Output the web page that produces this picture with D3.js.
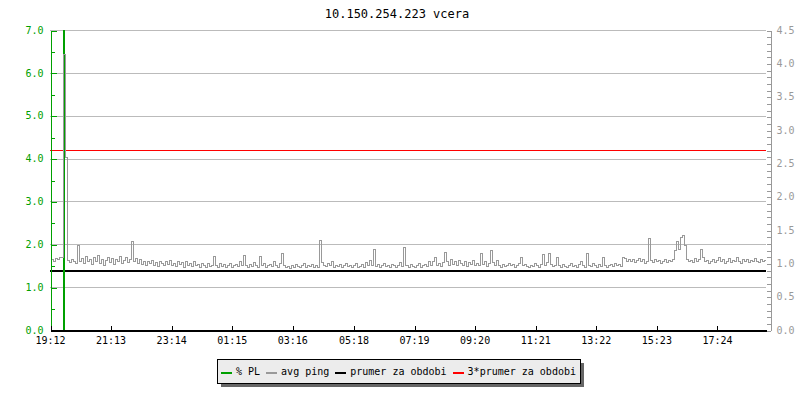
<!DOCTYPE html>
<html>
<head>
<meta charset="utf-8">
<script src="https://cdn.jsdelivr.net/npm/d3@7"></script>
<style>
    body { margin: 0; background: #fff; }
    svg { display: block; font-family: "DejaVu Sans Mono", monospace; }
    .crisp { shape-rendering: crispEdges; }
</style>
</head>
<body>
<div id="chart"></div>
<script>
// chart data (avg ping in ms, one value every 4 minutes starting 19:12)
const title = "10.150.254.223 vcera";
const slotMinutes = 4;
const pingValues = [
    1.05, 1.07, 1.04, 1.08, 1.06, 1.09, 1.10, 4.14, 2.60, 1.05,
    1.02, 1.06, 1.03, 1.01, 1.27, 1.04, 1.08, 1.00, 1.11, 1.03,
    1.06, 0.99, 1.09, 1.04, 1.12, 1.01, 1.07, 0.98, 1.05, 1.10,
    1.02, 1.08, 0.99, 1.06, 1.03, 1.11, 1.00, 1.05, 1.09, 1.02,
    1.07, 1.33, 1.04, 1.08, 1.01, 1.06, 0.99, 1.03, 0.97, 1.04,
    1.00, 1.05, 0.98, 1.02, 0.96, 1.04, 1.01, 0.97, 1.03, 0.99,
    1.05, 0.98, 1.01, 0.96, 1.03, 0.99, 1.02, 0.95, 1.04, 0.98,
    1.00, 0.96, 1.03, 0.97, 0.99, 0.95, 1.01, 0.97, 0.94, 1.00,
    0.96, 0.98, 1.11, 0.97, 0.95, 1.00, 0.96, 0.99, 0.94, 0.98,
    1.01, 0.95, 0.97, 0.99, 0.96, 1.03, 0.98, 1.12, 0.97, 0.95,
    0.99, 0.96, 1.02, 0.97, 0.94, 1.11, 0.98, 1.00, 0.95, 0.97,
    0.99, 0.96, 1.04, 0.98, 0.95, 1.01, 1.16, 0.97, 0.94, 0.96,
    0.93, 0.97, 0.95, 0.99, 0.96, 0.94, 0.98, 1.00, 0.95, 0.97,
    0.96, 0.99, 0.94, 0.97, 0.95, 1.35, 1.02, 0.98, 0.96, 1.00,
    0.97, 1.03, 0.95, 0.98, 0.96, 0.99, 0.94, 0.97, 1.01, 0.96,
    0.98, 0.95, 0.97, 1.00, 0.94, 0.96, 0.99, 0.95, 1.02, 0.97,
    1.05, 0.98, 1.21, 0.96, 0.99, 0.95, 0.97, 1.01, 0.96, 0.98,
    0.95, 0.99, 0.97, 0.94, 0.98, 1.02, 0.96, 1.25, 0.97, 0.95,
    0.99, 0.96, 0.94, 0.98, 1.00, 0.95, 0.97, 0.99, 0.96, 1.03,
    0.98, 1.04, 1.10, 0.97, 1.00, 0.96, 1.02, 1.17, 1.04, 0.98,
    1.06, 0.99, 1.03, 0.97, 1.05, 1.00, 0.98, 1.04, 0.96, 1.02,
    0.99, 1.05, 0.97, 1.01, 0.98, 1.15, 0.99, 1.03, 0.96, 1.00,
    1.20, 1.02, 0.98, 1.05, 0.97, 0.95, 0.99, 0.96, 0.98, 1.01,
    0.97, 0.99, 0.95, 0.98, 1.00, 1.10, 0.97, 0.99, 0.96, 0.94,
    0.98, 0.96, 1.00, 0.97, 0.95, 0.99, 1.14, 0.98, 1.02, 1.15,
    0.99, 0.96, 0.98, 1.10, 0.97, 0.95, 0.99, 0.96, 0.94, 0.98,
    1.00, 0.96, 0.98, 0.95, 0.99, 1.03, 0.97, 0.95, 1.15, 0.98,
    0.96, 1.00, 0.97, 0.95, 0.99, 0.96, 1.10, 0.98, 0.95, 0.97,
    0.99, 0.96, 1.01, 0.97, 0.99, 0.96, 1.10, 1.08, 1.04, 1.07,
    1.03, 1.06, 1.02, 1.05, 1.08, 1.03, 1.06, 1.01, 1.04, 1.38,
    1.05, 1.02, 1.07, 1.03, 1.05, 1.01, 1.04, 1.06, 1.02, 1.05,
    1.03, 1.07, 1.20, 1.33, 1.22, 1.40, 1.43, 1.28, 1.06, 1.03,
    1.05, 1.02, 1.08, 1.04, 1.06, 1.21, 1.09, 1.03, 1.05, 1.01,
    1.04, 1.07, 1.02, 1.05, 1.09, 1.03, 1.06, 1.01, 1.04, 1.08,
    1.02, 1.05, 1.03, 1.10, 1.04, 1.01, 1.06, 1.03, 1.07, 1.02,
    1.05, 1.03, 1.08, 1.04, 1.02, 1.06, 1.03, 1.05, 1.04
];
// packet loss in % (same 4-minute slots); only one non-zero slot
const plSlots = [7];
const plValues = [100];
const avgPing = 0.9;           // prumer za obdobi
const avgPing3 = 2.7;          // 3*prumer za obdobi
const xTickLabels = ["19:12", "21:13", "23:14", "01:15", "03:16", "05:18",
                     "07:19", "09:20", "11:21", "13:22", "15:23", "17:24"];
const xSpanMinutes = 1430;
const legendLabels = ["% PL", "avg ping", "prumer za obdobi", "3*prumer za obdobi"];
const legendColors = ["#00a000", "#999999", "#000000", "#ff0000"];

const width = 800, height = 400;
const margin = {top: 30, right: 34, bottom: 70, left: 50};
const plotRight = width - margin.right;   // 766
const plotBottom = height - margin.bottom; // 330
const fontMono = "DejaVu Sans Mono, monospace";

const svg = d3.select("#chart").append("svg")
    .attr("width", width)
    .attr("height", height);

// minutes from 19:12 for each tick label
const startMin = 19 * 60 + 12;
const tickMinutes = xTickLabels.map(s => {
    let m = +s.slice(0, 2) * 60 + +s.slice(3);
    if (m < startMin) m += 1440;
    return m - startMin;
});

const x = d3.scaleLinear().domain([0, xSpanMinutes]).range([margin.left, plotRight]);
const yL = d3.scaleLinear().domain([0, 7]).range([plotBottom, margin.top]);
const yR = d3.scaleLinear().domain([0, 4.5]).range([plotBottom, margin.top]);

svg.append("defs").append("clipPath").attr("id", "plotclip")
    .append("rect")
    .attr("x", margin.left).attr("y", margin.top)
    .attr("width", plotRight - margin.left).attr("height", plotBottom - margin.top);

// title
svg.append("text")
    .attr("x", 397).attr("y", 18)
    .attr("text-anchor", "middle")
    .attr("font-size", 12)
    .attr("fill", "#000")
    .text(title);

// horizontal grid
svg.append("g").attr("class", "crisp")
    .selectAll("line")
    .data(d3.range(1, 8))
    .join("line")
    .attr("x1", margin.left).attr("x2", plotRight)
    .attr("y1", d => Math.round(yL(d)) + 0.5).attr("y2", d => Math.round(yL(d)) + 0.5)
    .attr("stroke", "#bbbbbb");

const plot = svg.append("g").attr("clip-path", "url(#plotclip)");

// average lines
plot.append("line").attr("class", "crisp")
    .attr("x1", margin.left).attr("x2", plotRight)
    .attr("y1", yR(avgPing) + 1).attr("y2", yR(avgPing) + 1)
    .attr("stroke", legendColors[2]).attr("stroke-width", 2);

plot.append("line").attr("class", "crisp")
    .attr("x1", margin.left).attr("x2", plotRight)
    .attr("y1", yR(avgPing3) + 0.5).attr("y2", yR(avgPing3) + 0.5)
    .attr("stroke", legendColors[3]).attr("stroke-width", 1);

// packet loss
plot.append("g").attr("class", "crisp")
    .selectAll("rect")
    .data(plSlots.map((s, i) => ({slot: s, v: plValues[i]})))
    .join("rect")
    .attr("x", d => Math.round(x(d.slot * slotMinutes)) - 1)
    .attr("width", 2)
    .attr("y", d => yL(Math.min(d.v, 7.2)))
    .attr("height", d => yL(0) - yL(Math.min(d.v, 7.2)))
    .attr("fill", legendColors[0]);

// avg ping
const pingLine = d3.line()
    .x((d, i) => Math.round(x(i * slotMinutes)) + 0.5)
    .y(d => Math.round(yR(d)) + 0.5)
    .curve(d3.curveStep);

plot.append("path").attr("class", "crisp")
    .datum(pingValues)
    .attr("d", pingLine)
    .attr("fill", "none")
    .attr("stroke", legendColors[1])
    .attr("stroke-width", 1);

// left axis (green): minor ticks, then labelled major ticks
svg.append("g").attr("class", "crisp")
    .attr("transform", `translate(${margin.left + 0.5},0.5)`)
    .call(d3.axisLeft(yL).tickValues(d3.range(0, 7.5, 0.5)).tickSize(-4).tickSizeOuter(0).tickFormat(""))
    .call(g => g.select(".domain").remove())
    .call(g => g.selectAll(".tick line").attr("stroke", "#00a000"));

svg.append("g")
    .attr("transform", `translate(${margin.left + 0.5},0)`)
    .call(d3.axisLeft(yL).ticks(7).tickSize(-6).tickSizeOuter(0).tickPadding(7).tickFormat(d3.format(".1f")))
    .attr("font-family", fontMono).attr("font-size", 10)
    .call(g => g.selectAll(".tick line").attr("stroke", "#00a000").attr("class", "crisp")
        .attr("transform", "translate(0,0.5)"))
    .call(g => g.select(".domain").attr("stroke", "#00a000").attr("class", "crisp"))
    .call(g => g.selectAll("text").attr("fill", "#00a000"));

// right axis (gray)
svg.append("g")
    .attr("transform", `translate(${plotRight + 4.5},0)`)
    .call(d3.axisRight(yR).tickValues(d3.range(0, 46).map(d => d / 10)).tickSize(-4).tickSizeOuter(0).tickPadding(6)
        .tickFormat(d => (Math.round(d * 10) % 5 === 0 ? d3.format(".1f")(d) : "")))
    .attr("font-family", fontMono).attr("font-size", 10)
    .call(g => g.selectAll(".tick line").attr("stroke", "#999").attr("class", "crisp")
        .attr("transform", "translate(0,0.5)"))
    .call(g => g.select(".domain").attr("stroke", "#999").attr("class", "crisp"))
    .call(g => g.selectAll("text").attr("fill", "#999"));

// bottom axis
svg.append("g")
    .attr("transform", `translate(0,${plotBottom})`)
    .call(d3.axisBottom(x).tickValues(tickMinutes).tickSize(-4).tickSizeOuter(0).tickPadding(7)
        .tickFormat((d, i) => xTickLabels[i]))
    .attr("font-family", fontMono).attr("font-size", 10)
    .call(g => g.select(".domain").attr("stroke", "#000").attr("stroke-width", 2).attr("class", "crisp"))
    .call(g => g.selectAll(".tick line").attr("stroke", "#000").attr("class", "crisp")
        .attr("transform", "translate(0.5,0)"))
    .call(g => g.selectAll("text").attr("fill", "#000"));

// legend
const boxX = 217.5, boxY = 359.5, boxW = 363, boxH = 24;
const legend = svg.append("g");
legend.append("rect")
    .attr("class", "crisp")
    .attr("x", boxX + 3).attr("y", boxY + 3)
    .attr("width", boxW).attr("height", boxH)
    .attr("fill", "#666");
legend.append("rect")
    .attr("class", "crisp")
    .attr("x", boxX).attr("y", boxY)
    .attr("width", boxW).attr("height", boxH)
    .attr("fill", "#ececec").attr("stroke", "#000").attr("stroke-width", 1.5);

const items = legend.selectAll("g.item")
    .data(legendLabels)
    .join("g").attr("class", "item");
items.append("rect")
    .attr("class", "crisp")
    .attr("width", 11).attr("height", 2)
    .attr("y", -3)
    .attr("fill", (d, i) => legendColors[i]);
items.append("text")
    .attr("x", 15)
    .attr("font-size", 10)
    .text(d => d);

const offsets = [];
let cx = 0;
items.each(function () {
    offsets.push(cx);
    cx += 15 + d3.select(this).select("text").node().getComputedTextLength() + 6;
});
const legendW = cx - 6;
const lx = Math.round(boxX + (boxW - legendW) / 2 - 1);
items.attr("transform", (d, i) => `translate(${lx + offsets[i]},375)`);
</script>
</body>
</html>
